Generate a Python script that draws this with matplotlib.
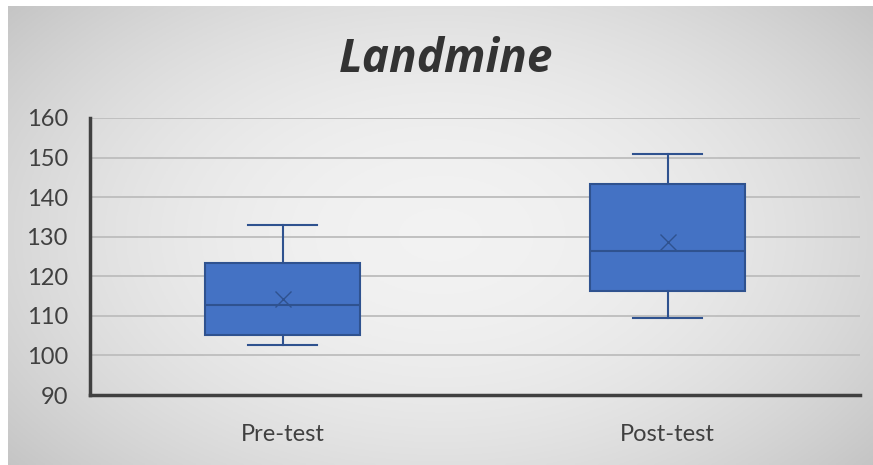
import numpy as np
import matplotlib
matplotlib.use("Agg")
import matplotlib.pyplot as plt

categories = ["Pre-test", "Post-test"]
whislo = [102.6, 109.5]
q1 = [105.2, 116.3]
med = [112.7, 126.5]
q3 = [123.3, 143.3]
whishi = [133.0, 151.0]
means = [114.3, 128.6]
yticks = [90, 100, 110, 120, 130, 140, 150, 160]

W, H = 873, 465
fig = plt.figure(figsize=(W / 100, H / 100), dpi=100)
fig.patch.set_facecolor("white")
plt.rcParams["font.family"] = ["Lato", "DejaVu Sans"]

# gradient background
bg = fig.add_axes([8 / W, 0, 1 - 8 / W, 1 - 6 / H])
yy, xx = np.mgrid[-1:1:200j, -1:1:400j]
r = np.sqrt((xx * 0.9) ** 2 + (yy * 0.75) ** 2)
img = 0.95 - 0.13 * np.clip(r, 0, 1.3) ** 2
bg.imshow(np.dstack([img, img, img]), aspect="auto", extent=[0, 1, 0, 1])
bg.set_axis_off()

ax = fig.add_axes([90 / W, (H - 395) / H, (860 - 90) / W, (395 - 118) / H])
ax.patch.set_alpha(0)

stats = []
for i in range(len(categories)):
    stats.append(dict(whislo=whislo[i], q1=q1[i], med=med[i], q3=q3[i],
                      whishi=whishi[i], mean=means[i], fliers=[]))

edge = "#2f528f"
ax.bxp(stats, positions=[0.5, 1.5], widths=0.405, patch_artist=True,
       showmeans=True, meanline=False,
       boxprops=dict(facecolor="#4472c4", edgecolor=edge, linewidth=1.5),
       medianprops=dict(color=edge, linewidth=1.5),
       whiskerprops=dict(color=edge, linewidth=1.5),
       capprops=dict(color=edge, linewidth=1.5),
       capwidths=0.18,
       meanprops=dict(marker="x", markeredgecolor=edge, markersize=11, markeredgewidth=1.0),
       zorder=3)

ax.set_xlim(0, 2)
ax.set_ylim(90, 160)
ax.set_yticks(yticks)
ax.set_xticks([0.5, 1.5])
ax.set_xticklabels(categories)
ax.tick_params(axis="both", length=0, labelsize=17, colors="#404040")
ax.tick_params(axis="y", pad=16)
ax.tick_params(axis="x", pad=21)
ax.yaxis.grid(True, color="#c0c0c0", linewidth=1.4, zorder=0)
ax.set_axisbelow(True)
for s in ["top", "right"]:
    ax.spines[s].set_visible(False)
for s in ["left", "bottom"]:
    ax.spines[s].set_color("#404040")
    ax.spines[s].set_linewidth(2.5)

fig.text(446 / W, 1 - 60 / H, "Landmine", ha="center", va="center",
         fontsize=33, fontweight="bold", fontstyle="italic", color="#333333",
         family=["Open Sans", "DejaVu Sans"])

fig.savefig("out.png", dpi=100)
